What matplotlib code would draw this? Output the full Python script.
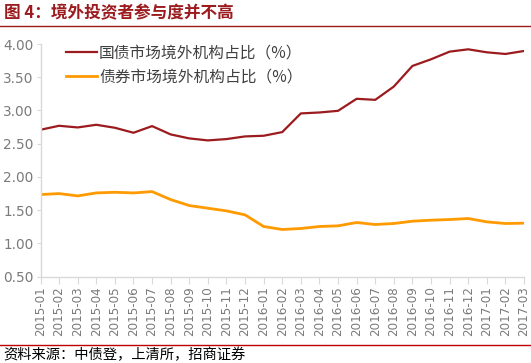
import matplotlib
matplotlib.use("Agg")
import matplotlib.pyplot as plt
from matplotlib.lines import Line2D

plt.rcParams['font.family'] = ['Noto Sans CJK SC', 'DejaVu Sans']

months = ["2015-01", "2015-02", "2015-03", "2015-04", "2015-05", "2015-06", "2015-07",
          "2015-08", "2015-09", "2015-10", "2015-11", "2015-12", "2016-01", "2016-02",
          "2016-03", "2016-04", "2016-05", "2016-06", "2016-07", "2016-08", "2016-09",
          "2016-10", "2016-11", "2016-12", "2017-01", "2017-02", "2017-03"]
govt_bond = [2.71, 2.77, 2.745, 2.785, 2.74, 2.665, 2.765, 2.64, 2.58, 2.55, 2.57, 2.61, 2.62,
             2.675, 2.956, 2.97, 2.995, 3.176, 3.16, 3.36, 3.67, 3.77, 3.885, 3.92, 3.875, 3.85, 3.895]
all_bond = [1.736, 1.75, 1.715, 1.76, 1.77, 1.76, 1.78, 1.66, 1.57, 1.53, 1.49, 1.43, 1.255,
            1.21, 1.225, 1.255, 1.265, 1.315, 1.285, 1.30, 1.335, 1.35, 1.36, 1.375, 1.325, 1.30, 1.305]
series_names = ["国债市场境外机构占比（%）", "债券市场境外机构占比（%）"]
yticks = [0.5, 1.0, 1.5, 2.0, 2.5, 3.0, 3.5, 4.0]

title = "图 4：境外投资者参与度并不高"
source = "资料来源：中债登，上清所，招商证券"

RED = "#9B1B1E"
ORANGE = "#FF9A00"
GRAY = "#7A7A7A"
AXIS = "#D9D9D9"

W, H = 531, 363
fig = plt.figure(figsize=(W / 100, H / 100), dpi=100)

ax = fig.add_axes([40.5 / W, 1 - 276.7 / H, (524 - 40.5) / W, (276.7 - 44) / H])
x = list(range(len(months)))
ax.plot(x, govt_bond, color=RED, lw=1.6, solid_joinstyle='round')
ax.plot(x, all_bond, color=ORANGE, lw=2.0, solid_joinstyle='round')

ax.set_xlim(0, len(months) - 1)
ax.set_ylim(0.5, 4.0)
ax.set_yticks(yticks)
ax.set_yticklabels([f"{v:.2f}" for v in yticks], fontsize=9.8, color=GRAY, family='DejaVu Sans')
ax.set_xticks(x)
ax.set_xticklabels(months, rotation=90, fontsize=8.6, color=GRAY, family='DejaVu Sans')

for s in ['top', 'right']:
    ax.spines[s].set_visible(False)
for s in ['left', 'bottom']:
    ax.spines[s].set_color(AXIS)
    ax.spines[s].set_linewidth(1.0)
ax.tick_params(axis='x', length=5, color=AXIS, pad=2)
ax.tick_params(axis='y', length=3, color=AXIS, pad=2)

handles = [Line2D([0], [0], color=RED, lw=1.6), Line2D([0], [0], color=ORANGE, lw=2.0)]
leg = ax.legend(handles, series_names, loc='upper left', bbox_to_anchor=(0.04, 1.024),
                frameon=False, fontsize=11.3, handlelength=1.95, handletextpad=0.15,
                labelspacing=0.42, borderaxespad=0)
for t in leg.get_texts():
    t.set_color("#404040")

fig.text(4 / W, 1 - 13 / H, title, fontsize=12, fontweight='bold', color=RED,
         va='center', ha='left')
fig.add_artist(Line2D([0, 1], [1 - 26 / H, 1 - 26 / H], color=RED, lw=1.0,
                      transform=fig.transFigure))
fig.add_artist(Line2D([0, 1], [1 - 345 / H, 1 - 345 / H], color="#C00000", lw=1.0,
                      transform=fig.transFigure))
fig.text(3 / W, 1 - 355 / H, source, fontsize=10.3, color="black", va='center', ha='left')

fig.savefig("out.png", dpi=100)
